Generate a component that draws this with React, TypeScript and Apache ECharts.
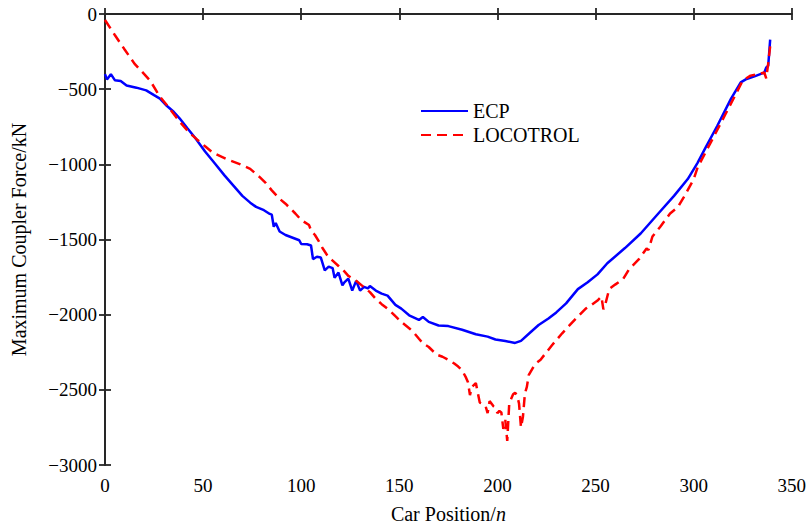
import React, { useEffect, useRef } from "react";
import * as echarts from "echarts";

const xTicks = [0, 50, 100, 150, 200, 250, 300, 350];
const yTicks = [-3000, -2500, -2000, -1500, -1000, -500, 0];

const ecpPos = [0, 1, 3, 5, 8, 11, 16, 21, 25, 28, 31, 35, 38, 42, 46, 51, 56, 61, 66, 70, 74, 77, 81, 84, 85, 86, 87, 89, 92, 96, 99, 100, 103, 105, 106, 108, 110, 112, 114, 116, 117, 119, 121, 122, 124, 126, 128, 130, 132, 134, 135, 138, 141, 144, 148, 151, 155, 160, 162, 165, 170, 175, 182, 189, 195, 199, 204, 209, 212, 217, 221, 226, 230, 235, 241, 246, 251, 256, 265, 273, 282, 290, 297, 302, 306, 312, 319, 324, 327, 331, 336, 337, 338, 339];
const ecpForce = [-400, -435, -400, -440, -445, -475, -490, -508, -540, -563, -605, -650, -694, -760, -825, -915, -995, -1075, -1150, -1210, -1255, -1283, -1305, -1330, -1335, -1415, -1390, -1447, -1470, -1490, -1505, -1530, -1532, -1540, -1630, -1615, -1620, -1705, -1680, -1690, -1755, -1720, -1805, -1785, -1760, -1840, -1775, -1840, -1815, -1825, -1810, -1840, -1860, -1873, -1935, -1960, -2004, -2035, -2015, -2048, -2072, -2076, -2100, -2130, -2146, -2165, -2175, -2188, -2174, -2115, -2069, -2026, -1985, -1925, -1830, -1785, -1732, -1658, -1557, -1460, -1327, -1210, -1098, -990, -890, -745, -565, -455, -432, -415, -390, -355, -345, -170];

const locoPos = [0, 5, 10, 15, 20, 23, 28, 33, 38, 43, 47, 51, 55, 62, 69, 74, 79, 82, 85, 89, 92, 97, 100, 104, 105, 107, 109, 111, 113, 116, 119, 122, 124, 128, 131, 135, 138, 141, 145, 148, 151, 155, 157, 160, 162, 165, 169, 172, 175, 178, 180, 182, 184, 185, 186, 187, 189, 190, 191, 192, 194, 195, 196, 198, 199, 200, 201, 202, 203, 204, 205, 206, 207, 208, 209, 210, 211, 212, 213, 214, 215, 216, 218, 220, 222, 224, 228, 233, 236, 240, 245, 248, 251, 253, 254, 255, 257, 260, 264, 267, 272, 275, 276, 277, 279, 283, 288, 292, 295, 300, 302, 309, 316, 322, 325, 329, 333, 336, 337, 338, 339];
const locoForce = [-40, -140, -236, -330, -400, -443, -550, -630, -715, -790, -836, -880, -923, -965, -1000, -1030, -1087, -1125, -1173, -1229, -1262, -1327, -1370, -1404, -1440, -1470, -1513, -1560, -1600, -1640, -1676, -1712, -1742, -1775, -1807, -1850, -1895, -1930, -1971, -2010, -2048, -2090, -2113, -2160, -2190, -2215, -2266, -2280, -2300, -2325, -2345, -2370, -2419, -2450, -2535, -2480, -2455, -2520, -2585, -2590, -2610, -2655, -2575, -2610, -2620, -2655, -2640, -2650, -2760, -2700, -2840, -2595, -2560, -2530, -2520, -2535, -2590, -2750, -2680, -2525, -2480, -2400, -2355, -2320, -2300, -2266, -2200, -2124, -2081, -2026, -1960, -1935, -1906, -1880, -1965, -1930, -1829, -1800, -1764, -1700, -1633, -1578, -1560, -1570, -1480, -1415, -1327, -1284, -1218, -1100, -1022, -847, -672, -520, -443, -410, -400, -389, -428, -330, -214];

const FONT = "'Liberation Serif', 'Times New Roman', serif";
const AXIS_COLOR = "#262626";

const fmtNum = (v: number) => (v < 0 ? "\u2212" + Math.abs(v) : String(v));

export default function App() {
  const ref = useRef<HTMLDivElement>(null);
  useEffect(() => {
    if (!ref.current) return;
    const chart = echarts.init(ref.current, undefined, { renderer: "svg" });
    const xMin = xTicks[0];
    const xMax = xTicks[xTicks.length - 1];
    const yMin = yTicks[0];
    const yMax = yTicks[yTicks.length - 1];
    const axisCommon = {
      axisLine: { show: true, lineStyle: { color: AXIS_COLOR, width: 1.8 } },
      axisTick: { show: true, inside: true, length: 6, lineStyle: { color: AXIS_COLOR, width: 1.8 } },
      splitLine: { show: false },
    };
    chart.setOption({
      animation: false,
      backgroundColor: "#ffffff",
      grid: { left: 105, right: 16, top: 14, bottom: 56, containLabel: false },
      legend: {
        orient: "vertical",
        left: 415,
        top: 96,
        itemWidth: 47,
        itemHeight: 14,
        itemGap: 4,
        itemStyle: { opacity: 0 },
        textStyle: { fontFamily: FONT, fontSize: 20, color: "#000" },
        data: ["ECP", "LOCOTROL"],
      },
      xAxis: [
        {
          type: "value",
          min: xMin,
          max: xMax,
          interval: 50,
          ...axisCommon,
          axisLabel: { fontFamily: FONT, fontSize: 19, color: "#000", margin: 11, formatter: fmtNum },
          name: "{a|Car Position/}{b|n}",
          nameLocation: "middle",
          nameGap: 39,
          nameTextStyle: {
            rich: {
              a: { fontFamily: FONT, fontSize: 20, color: "#000" },
              b: { fontFamily: FONT, fontSize: 20, color: "#000", fontStyle: "italic" },
            },
          },
        },
        {
          type: "value",
          position: "top",
          min: xMin,
          max: xMax,
          interval: 50,
          ...axisCommon,
          axisLabel: { show: false },
        },
      ],
      yAxis: [
        {
          type: "value",
          min: yMin,
          max: yMax,
          interval: 500,
          ...axisCommon,
          axisLabel: { fontFamily: FONT, fontSize: 19, color: "#000", margin: 8, formatter: fmtNum },
          name: "Maximum Coupler Force/kN",
          nameLocation: "middle",
          nameGap: 76,
          nameTextStyle: { fontFamily: FONT, fontSize: 20, color: "#000" },
        },
        {
          type: "value",
          position: "right",
          min: yMin,
          max: yMax,
          interval: 500,
          ...axisCommon,
          axisLabel: { show: false },
        },
      ],
      series: [
        {
          name: "ECP",
          type: "line",
          xAxisIndex: 0,
          yAxisIndex: 0,
          symbol: "none",
          showSymbol: false,
          lineStyle: { color: "#0000ff", width: 2.5 },
          itemStyle: { color: "#0000ff" },
          data: ecpPos.map((p, i) => [p, ecpForce[i]]),
        },
        {
          name: "LOCOTROL",
          type: "line",
          xAxisIndex: 0,
          yAxisIndex: 0,
          symbol: "none",
          showSymbol: false,
          lineStyle: { color: "#ff0000", width: 2.5, type: [10, 6] },
          itemStyle: { color: "#ff0000" },
          data: locoPos.map((p, i) => [p, locoForce[i]]),
        },
      ],
    });
    return () => chart.dispose();
  }, []);
  return <div ref={ref} style={{ width: 809, height: 529, position: "absolute", left: 0, top: 0 }} />;
}
